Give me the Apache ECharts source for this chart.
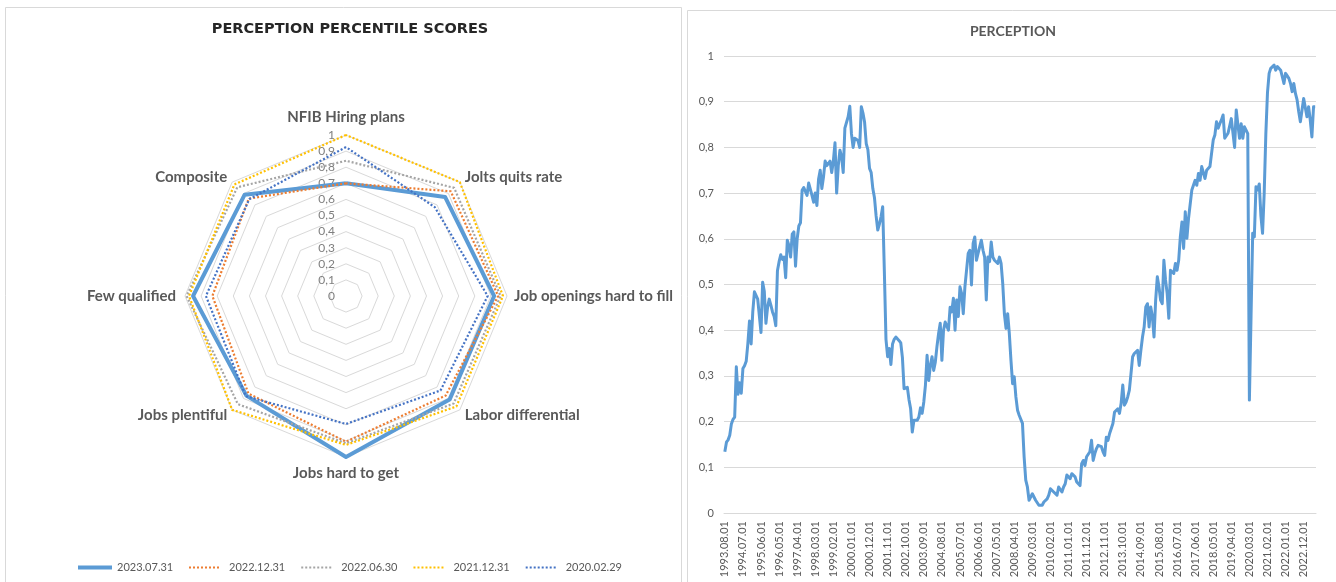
<!DOCTYPE html>
<html>
<head>
<meta charset="utf-8">
<script src="https://cdn.jsdelivr.net/npm/echarts@6/dist/echarts.min.js"></script>
<style>
  html, body { margin: 0; padding: 0; background: #ffffff; }
  #chart { width: 1336px; height: 582px; }
</style>
</head>
<body>
<div id="chart"></div>
<script>
// ---- Radar: perception percentile scores (axes listed clockwise from the top) ----
const radarAxes = [
  'NFIB Hiring plans', 'Jolts quits rate', 'Job openings hard to fill', 'Labor differential',
  'Jobs hard to get', 'Jobs plentiful', 'Few qualified', 'Composite'
];
const snapshotDates = ['2023.07.31', '2022.12.31', '2022.06.30', '2021.12.31', '2020.02.29'];
const score20230731 = [0.70, 0.87, 0.92, 0.91, 1.00, 0.875, 0.95, 0.89];
const score20221231 = [0.70, 0.92, 0.945, 0.875, 0.905, 0.857, 0.83, 0.855];
const score20220630 = [0.84, 0.95, 0.96, 0.945, 0.915, 0.95, 0.99, 0.955];
const score20211231 = [1.00, 1.00, 0.975, 0.97, 0.925, 1.00, 0.975, 0.98];
const score20200229 = [0.925, 0.78, 0.88, 0.83, 0.795, 0.88, 0.87, 0.85];
const radarTicks = [0, 0.1, 0.2, 0.3, 0.4, 0.5, 0.6, 0.7, 0.8, 0.9, 1];

// ---- Line: monthly perception composite, 1993.08 – 2023.07 ----
const perc1993 = [0.134, 0.155, 0.16, 0.17, 0.195];
const perc1994 = [0.205, 0.21, 0.32, 0.26, 0.285, 0.262, 0.316, 0.322, 0.332, 0.37, 0.42, 0.37];
const perc1995 = [0.44, 0.484, 0.482, 0.468, 0.472, 0.395, 0.505, 0.485, 0.415, 0.45, 0.468, 0.455];
const perc1996 = [0.44, 0.43, 0.41, 0.53, 0.55, 0.565, 0.555, 0.56, 0.515, 0.597, 0.585, 0.56];
const perc1997 = [0.61, 0.615, 0.54, 0.60, 0.628, 0.635, 0.706, 0.712, 0.712, 0.695, 0.722, 0.725];
const perc1998 = [0.695, 0.68, 0.70, 0.673, 0.73, 0.75, 0.71, 0.735, 0.77, 0.76, 0.76, 0.77];
const perc1999 = [0.745, 0.77, 0.81, 0.70, 0.76, 0.794, 0.78, 0.745, 0.842, 0.84, 0.867, 0.89];
const perc2000 = [0.83, 0.80, 0.82, 0.823, 0.815, 0.80, 0.889, 0.875, 0.855, 0.808, 0.795, 0.754];
const perc2001 = [0.745, 0.71, 0.69, 0.65, 0.619, 0.632, 0.648, 0.67, 0.53, 0.38, 0.342, 0.36];
const perc2002 = [0.325, 0.37, 0.38, 0.385, 0.385, 0.377, 0.372, 0.34, 0.272, 0.27, 0.275, 0.248];
const perc2003 = [0.228, 0.177, 0.203, 0.20, 0.203, 0.21, 0.23, 0.218, 0.243, 0.28, 0.345, 0.29];
const perc2004 = [0.323, 0.342, 0.312, 0.33, 0.364, 0.393, 0.415, 0.334, 0.40, 0.418, 0.422, 0.40];
const perc2005 = [0.45, 0.44, 0.47, 0.40, 0.466, 0.43, 0.495, 0.48, 0.436, 0.495, 0.499, 0.568];
const perc2006 = [0.575, 0.499, 0.59, 0.604, 0.553, 0.568, 0.571, 0.597, 0.575, 0.56, 0.466, 0.56];
const perc2007 = [0.55, 0.593, 0.56, 0.553, 0.55, 0.546, 0.56, 0.546, 0.502, 0.436, 0.404, 0.436];
const perc2008 = [0.393, 0.334, 0.283, 0.298, 0.254, 0.225, 0.214, 0.21, 0.196, 0.123, 0.072, 0.057];
const perc2009 = [0.028, 0.024, 0.042, 0.046, 0.028, 0.031, 0.017, 0.013, 0.017, 0.024, 0.028, 0.031];
const perc2010 = [0.039, 0.053, 0.053, 0.046, 0.042, 0.039, 0.057, 0.053, 0.046, 0.057, 0.064, 0.083];
const perc2011 = [0.079, 0.075, 0.086, 0.083, 0.079, 0.068, 0.064, 0.06, 0.108, 0.115, 0.104, 0.123];
const perc2012 = [0.126, 0.134, 0.159, 0.115, 0.13, 0.141, 0.148, 0.145, 0.145, 0.134, 0.126, 0.166];
const perc2013 = [0.159, 0.174, 0.177, 0.196, 0.221, 0.225, 0.228, 0.218, 0.24, 0.28, 0.236, 0.243];
const perc2014 = [0.254, 0.269, 0.305, 0.342, 0.349, 0.349, 0.356, 0.323, 0.356, 0.385, 0.407, 0.451];
const perc2015 = [0.458, 0.407, 0.451, 0.43, 0.385, 0.466, 0.517, 0.495, 0.466, 0.458, 0.553, 0.51];
const perc2016 = [0.48, 0.426, 0.531, 0.528, 0.524, 0.546, 0.531, 0.553, 0.604, 0.637, 0.579, 0.659];
const perc2017 = [0.601, 0.645, 0.648, 0.707, 0.703, 0.728, 0.717, 0.743, 0.728, 0.758, 0.754, 0.732];
const perc2018 = [0.75, 0.754, 0.758, 0.761, 0.816, 0.827, 0.856, 0.842, 0.852, 0.86, 0.871, 0.82];
const perc2019 = [0.823, 0.831, 0.827, 0.863, 0.867, 0.80, 0.882, 0.85, 0.82, 0.852, 0.82, 0.845];
const perc2020 = [0.842, 0.83, 0.247, 0.43, 0.612, 0.604, 0.714, 0.707, 0.72, 0.65, 0.612, 0.70];
const perc2021 = [0.83, 0.92, 0.962, 0.973, 0.977, 0.98, 0.969, 0.977, 0.973, 0.969, 0.955, 0.94];
const perc2022 = [0.962, 0.958, 0.951, 0.94, 0.922, 0.94, 0.918, 0.904, 0.878, 0.856, 0.86, 0.907];
const perc2023 = [0.907, 0.867, 0.889, 0.86, 0.823, 0.889, 0.889];

const firstYear = 1993;
const firstMonth = 8;
const yearlyPerception = [
  perc1993, perc1994, perc1995, perc1996, perc1997, perc1998, perc1999, perc2000,
  perc2001, perc2002, perc2003, perc2004, perc2005, perc2006, perc2007, perc2008,
  perc2009, perc2010, perc2011, perc2012, perc2013, perc2014, perc2015, perc2016,
  perc2017, perc2018, perc2019, perc2020, perc2021, perc2022, perc2023
];

// Flatten into month categories "YYYY.MM.01" and values
const monthLabels = [];
const perception = [];
yearlyPerception.forEach((vals, k) => {
  const y = firstYear + k;
  const m0 = k === 0 ? firstMonth : 1;
  vals.forEach((v, j) => {
    const m = m0 + j;
    monthLabels.push(y + '.' + (m < 10 ? '0' + m : m) + '.01');
    perception.push(v);
  });
});

// ---- Styling ----
const FONT = 'Lato';
const textGrey = '#595959';
const gridGrey = '#D9D9D9';
const snapshotColors = ['#5B9BD5', '#ED7D31', '#A5A5A5', '#FFC000', '#4472C4'];
const snapshotScores = [score20230731, score20221231, score20220630, score20211231, score20200229];

// ECharts lays radar indicators counter-clockwise, so walk the clockwise list backwards
const radarOrder = [0, 7, 6, 5, 4, 3, 2, 1];
const commaDecimal = v => String(+Number(v).toFixed(1)).replace('.', ',');

const dotsIcon = 'path://M0 0h2v2H0z M4 0h2v2H4z M8 0h2v2H8z M12 0h2v2h-2z M16 0h2v2h-2z M20 0h2v2h-2z M24 0h2v2h-2z M28 0h2v2h-2z';

const radarNameStyle = {
  top:    { padding: [0, 0, 3, 0] },
  bottom: { padding: [2, 0, 0, 0] },
  left:   { padding: [0, 2, 0, 0] },
  other:  {}
};
const namePlace = {
  'NFIB Hiring plans': 'top', 'Jobs hard to get': 'bottom', 'Few qualified': 'left'
};
const richBase = { fontFamily: FONT, fontWeight: 'bold', fontSize: 15, color: textGrey };
const rich = {};
Object.keys(radarNameStyle).forEach(k => { rich[k] = Object.assign({}, richBase, radarNameStyle[k]); });

const radarSeries = snapshotDates.map((d, s) => ({
  name: d,
  type: 'radar',
  radarIndex: 0,
  symbol: 'none',
  silent: true,
  z: 2 + s,
  lineStyle: s === 0
    ? { color: snapshotColors[s], width: 4, type: 'solid' }
    : { color: snapshotColors[s], width: 2.2, type: [2, 2], cap: 'butt' },
  itemStyle: { color: snapshotColors[s] },
  data: [{ name: d, value: radarOrder.map(i => snapshotScores[s][i]) }]
}));

const chart = echarts.init(document.getElementById('chart'), null, { renderer: 'canvas' });
chart.setOption({
  animation: false,
  backgroundColor: '#ffffff',
  textStyle: { fontFamily: FONT },
  graphic: [
    { type: 'rect', silent: true, shape: { x: 5.5, y: 7.5, width: 676, height: 590 },
      style: { fill: null, stroke: gridGrey, lineWidth: 1 } },
    { type: 'rect', silent: true, shape: { x: 687.5, y: 10.5, width: 670, height: 590 },
      style: { fill: null, stroke: gridGrey, lineWidth: 1 } }
  ],
  title: [
    { text: 'PERCEPTION PERCENTILE SCORES', left: 345, top: 17, textAlign: 'center',
      textStyle: { fontFamily: 'DejaVu Sans', fontWeight: 'bold', fontSize: 14.5, color: '#262626' } },
    { text: 'PERCEPTION', left: 1008, top: 19, textAlign: 'center',
      textStyle: { fontFamily: FONT, fontWeight: 'bold', fontSize: 14, color: '#595959' } }
  ],
  legend: [
    { data: [snapshotDates[0]], left: 73, top: 557, orient: 'horizontal',
      icon: 'rect', itemWidth: 34, itemHeight: 4, selectedMode: false,
      textStyle: { fontFamily: FONT, fontSize: 11, color: textGrey } },
    { data: snapshotDates.slice(1), left: 184, top: 557, orient: 'horizontal',
      icon: dotsIcon, itemWidth: 30, itemHeight: 2, itemGap: 16, selectedMode: false,
      textStyle: { fontFamily: FONT, fontSize: 11, color: textGrey, padding: [0, 0, 0, 5] } }
  ],
  radar: {
    center: [346, 296],
    radius: 161,
    startAngle: 90,
    splitNumber: 10,
    shape: 'polygon',
    nameGap: 7,
    indicator: radarOrder.map(i => ({ name: radarAxes[i], min: 0, max: 1 })),
    axisName: {
      formatter: name => '{' + (namePlace[name] || 'other') + '|' + name + '}',
      rich: rich
    },
    axisLine: { show: false },
    axisTick: { show: false },
    axisLabel: { show: false },
    splitLine: { lineStyle: { color: gridGrey, width: 1 } },
    splitArea: { show: false }
  },
  grid: [
    // holds the value scale printed along the radar's top spoke
    { left: 346, top: 135, width: 1, height: 161, outerBoundsMode: 'none' },
    { left: 724, right: 20, top: 56, bottom: 69, outerBoundsMode: 'none' }
  ],
  xAxis: [
    { gridIndex: 0, type: 'value', show: false },
    { gridIndex: 1, type: 'category', data: monthLabels, boundaryGap: true,
      axisLine: { lineStyle: { color: gridGrey, width: 1 } },
      axisTick: { show: false },
      axisLabel: { interval: 10, rotate: 90, margin: 8, fontFamily: FONT, fontSize: 11, color: textGrey }
    }
  ],
  yAxis: [
    { gridIndex: 0, type: 'value', min: 0, max: 1, interval: 0.1,
      axisLine: { show: false }, axisTick: { show: false }, splitLine: { show: false },
      axisLabel: { margin: 11, fontFamily: FONT, fontSize: 12, color: '#7F7F7F',
        formatter: v => radarTicks.indexOf(+v.toFixed(1)) >= 0 ? commaDecimal(v) : '' } },
    { gridIndex: 1, type: 'value', min: 0, max: 1, interval: 0.1,
      axisLine: { show: false }, axisTick: { show: false },
      splitLine: { lineStyle: { color: gridGrey, width: 1 } },
      axisLabel: { margin: 10, fontFamily: FONT, fontSize: 11, color: textGrey, formatter: commaDecimal } }
  ],
  series: radarSeries.concat([
    { name: 'Perception', type: 'line', xAxisIndex: 1, yAxisIndex: 1,
      data: perception, symbol: 'none', showSymbol: false, silent: true,
      lineStyle: { color: '#5B9BD5', width: 3, join: 'round' } }
  ])
});
</script>
</body>
</html>
